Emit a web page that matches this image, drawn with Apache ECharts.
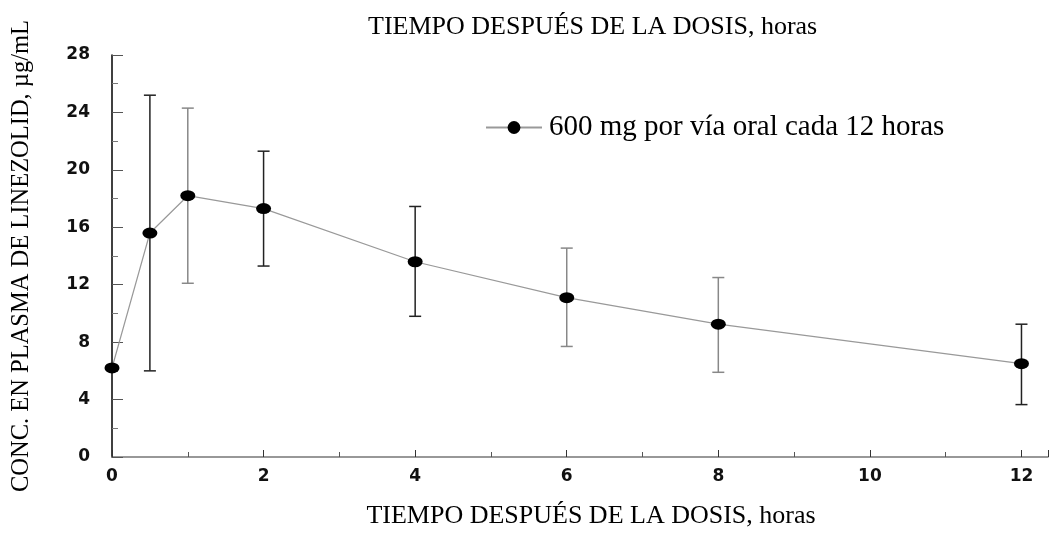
<!DOCTYPE html>
<html><head><meta charset="utf-8">
<script src="https://cdn.jsdelivr.net/npm/echarts@6/dist/echarts.min.js"></script>
<style>html,body{margin:0;padding:0;background:#fff}#c{width:1051px;height:534px}</style>
</head><body><div id="c"></div>
<script>
const hours = [0, 0.5, 1, 2, 4, 6, 8, 12];
const meanConc = [6.2, 15.6, 18.2, 17.3, 13.6, 11.1, 9.25, 6.5];
const errLow = [6.2, 6.0, 12.1, 13.3, 9.8, 7.7, 5.9, 3.65];
const errHigh = [6.2, 25.2, 24.3, 21.3, 17.45, 14.55, 12.5, 9.25];
const seriesName = '600 mg por vía oral cada 12 horas';
const xTitle = 'TIEMPO DESPUÉS DE LA DOSIS, horas';
const yTitle = 'CONC. EN PLASMA DE LINEZOLID, µg/mL';

const grayBars = new Set([2, 5, 6]); // rendering style only
const chart = echarts.init(document.getElementById('c'));
const serif = '"Liberation Serif", "Times New Roman", serif';
const sans = '"DejaVu Sans", sans-serif';
chart.setOption({
  animation: false,
  title: {text: xTitle, left: 368, top: 14, textStyle: {fontFamily: serif, fontSize: 26, fontWeight: 'normal', color: '#000'}, padding: 0, itemGap: 0},
  grid: {left: 112, right: 2, top: 55, bottom: 73},
  legend: {
    left: 480, top: 108, itemWidth: 56, itemHeight: 16, itemGap: 10,
    textStyle: {fontFamily: serif, fontSize: 29, color: '#000', padding: [0, 0, 0, 2]},
    data: [seriesName]
  },
  xAxis: {
    type: 'value', min: 0, max: 12.35, interval: 2,
    name: xTitle, nameLocation: 'middle', nameGap: 46,
    nameTextStyle: {fontFamily: serif, fontSize: 26, color: '#000', padding: [0, 0, 0, 22]},
    axisLine: {lineStyle: {color: '#777', width: 1.5}},
    axisTick: {inside: true, length: 7, lineStyle: {color: '#333'}},
    minorTick: {show: true, splitNumber: 2, length: 5, lineStyle: {color: '#555'}},
    splitLine: {show: false},
    axisLabel: {margin: 11, fontFamily: sans, fontWeight: 'bold', fontSize: 17, color: '#111',
      formatter: v => (Math.abs(v % 2) < 1e-9 ? String(v) : '')}
  },
  yAxis: {
    type: 'value', min: 0, max: 28, interval: 4,
    name: yTitle, nameLocation: 'middle', nameRotate: 90, nameGap: 78,
    nameTextStyle: {fontFamily: serif, fontSize: 24.5, color: '#000'},
    axisLine: {lineStyle: {color: '#000', width: 1.5}},
    axisTick: {inside: true, length: 11, lineStyle: {color: '#555'}},
    minorTick: {show: true, splitNumber: 2, length: 6, lineStyle: {color: '#777'}},
    splitLine: {show: false},
    axisLabel: {margin: 22, fontFamily: sans, fontWeight: 'bold', fontSize: 17, color: '#111'}
  },
  series: [
    {
      type: 'custom', name: 'err', silent: true, z: 1,
      data: hours.map((h, i) => [h, errLow[i], errHigh[i]]),
      renderItem: (params, api) => {
        const x = api.value(0);
        const lo = api.coord([x, api.value(1)]);
        const hi = api.coord([x, api.value(2)]);
        const c = grayBars.has(params.dataIndex) ? '#888' : '#222';
        const w = 6;
        return {type: 'group', children: [
          {type: 'line', shape: {x1: lo[0], y1: lo[1], x2: hi[0], y2: hi[1]}, style: {stroke: c, lineWidth: 1.5}},
          {type: 'line', shape: {x1: lo[0]-w, y1: lo[1], x2: lo[0]+w, y2: lo[1]}, style: {stroke: c, lineWidth: 1.5}},
          {type: 'line', shape: {x1: hi[0]-w, y1: hi[1], x2: hi[0]+w, y2: hi[1]}, style: {stroke: c, lineWidth: 1.5}}
        ]};
      }
    },
    {
      type: 'line', name: seriesName, z: 3,
      data: hours.map((h, i) => [h, meanConc[i]]),
      symbol: 'circle', symbolSize: [15, 11],
      itemStyle: {color: '#000'},
      lineStyle: {color: '#999', width: 1.2}
    }
  ]
});
</script></body></html>
